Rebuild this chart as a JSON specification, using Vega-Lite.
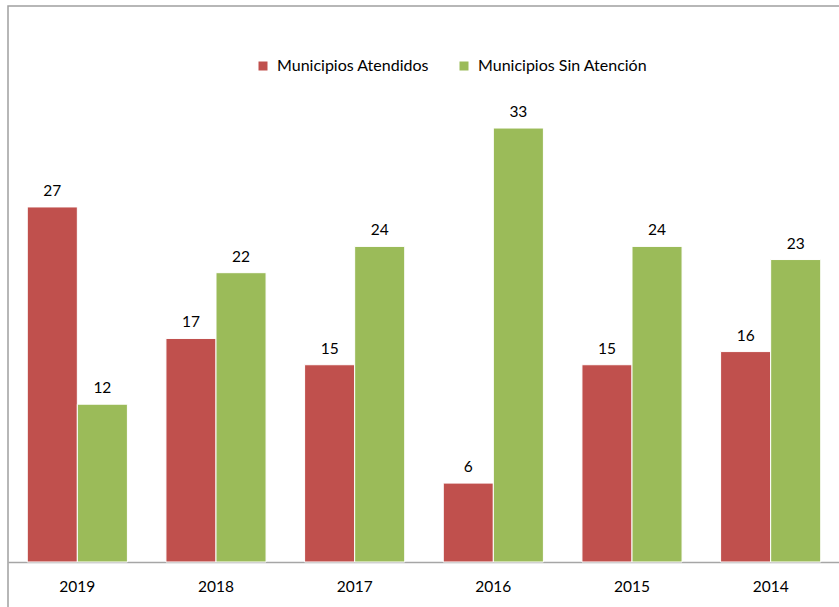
{
  "$schema": "https://vega.github.io/schema/vega-lite/v6.json",
  "autosize": {"type": "none"},
  "padding": {"left": 8, "top": 6, "right": 0, "bottom": 0},
  "width": 832,
  "height": 620,
  "background": "#ffffff",
  "config": {
    "view": {"stroke": "#a0a0a0", "strokeWidth": 1.5},
    "font": "Lato",
    "text": {"font": "Lato"}
  },
  "data": {
    "values": [
      {"year": "2019", "serie": "Municipios Atendidos", "value": 27},
      {"year": "2019", "serie": "Municipios Sin Atención", "value": 12},
      {"year": "2018", "serie": "Municipios Atendidos", "value": 17},
      {"year": "2018", "serie": "Municipios Sin Atención", "value": 22},
      {"year": "2017", "serie": "Municipios Atendidos", "value": 15},
      {"year": "2017", "serie": "Municipios Sin Atención", "value": 24},
      {"year": "2016", "serie": "Municipios Atendidos", "value": 6},
      {"year": "2016", "serie": "Municipios Sin Atención", "value": 33},
      {"year": "2015", "serie": "Municipios Atendidos", "value": 15},
      {"year": "2015", "serie": "Municipios Sin Atención", "value": 24},
      {"year": "2014", "serie": "Municipios Atendidos", "value": 16},
      {"year": "2014", "serie": "Municipios Sin Atención", "value": 23}
    ]
  },
  "encoding": {
    "x": {
      "field": "year",
      "type": "nominal",
      "sort": ["2019", "2018", "2017", "2016", "2015", "2014"],
      "scale": {"paddingInner": 0.278, "paddingOuter": 0.139},
      "axis": {
        "title": null,
        "orient": "bottom",
        "offset": -64,
        "domainColor": "#a6a6a6",
        "domainWidth": 1.5,
        "ticks": false,
        "labelAngle": 0,
        "labelFont": "Lato",
        "labelFontSize": 15.5,
        "labelColor": "#000000",
        "labelPadding": 17
      }
    },
    "xOffset": {
      "field": "serie",
      "type": "nominal",
      "sort": ["Municipios Atendidos", "Municipios Sin Atención"],
      "scale": {"paddingInner": 0, "paddingOuter": 0}
    },
    "y": {
      "field": "value",
      "type": "quantitative",
      "scale": {"domain": [-4.867, 42.28], "nice": false, "zero": false},
      "axis": null
    }
  },
  "layer": [
    {
      "mark": {"type": "bar", "stroke": "#ffffff", "strokeWidth": 1},
      "encoding": {
        "y2": {"datum": 0},
        "color": {
          "field": "serie",
          "type": "nominal",
          "sort": ["Municipios Atendidos", "Municipios Sin Atención"],
          "scale": {"range": ["#C0504D", "#9BBB59"]},
          "legend": {
            "title": null,
            "orient": "none",
            "direction": "horizontal",
            "legendX": 247,
            "legendY": 52,
            "symbolType": "square",
            "symbolSize": 81,
            "symbolStrokeWidth": 0,
            "labelFont": "Lato",
            "labelFontSize": 16,
            "labelColor": "#000000",
            "labelOffset": 6,
            "labelLimit": 0,
            "columnPadding": 27
          }
        }
      }
    },
    {
      "mark": {"type": "text", "baseline": "alphabetic", "dy": -11, "fontSize": 15.5, "font": "Lato", "color": "#000000"},
      "encoding": {
        "text": {"field": "value", "type": "quantitative"}
      }
    }
  ]
}
